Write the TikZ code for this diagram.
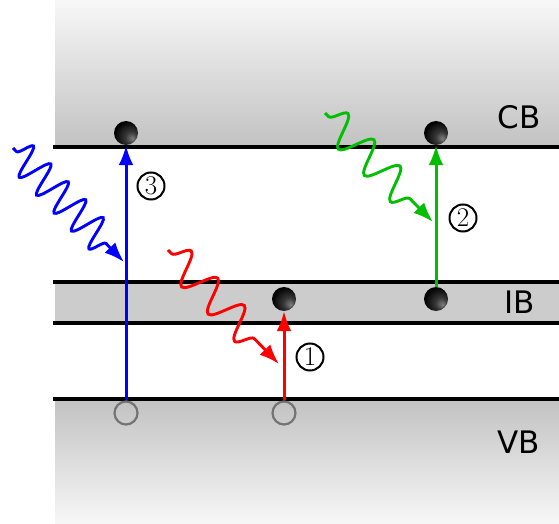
\documentclass[tikz,border=0pt]{standalone}
\usepackage{fontspec}
\setsansfont{DejaVu Sans}
\usetikzlibrary{arrows.meta,decorations.pathmorphing}
\pgfdeclareradialshading{electronball}{\pgfpoint{14bp}{-12bp}}{color(0bp)=(black!50); color(12bp)=(black!78); color(30bp)=(black); color(50bp)=(black)}
\tikzset{
	electron/.style={circle, minimum size=24pt, inner sep=0pt, shading=electronball},
	hole/.style={circle, draw=black!55, line width=2.2pt, minimum size=23pt, inner sep=0pt},
	stepnum/.style={circle, draw, line width=2pt, minimum size=27pt, inner sep=0pt, font=\fontsize{27}{27}\selectfont},
	bandline/.style={line width=3.4pt},
	bandname/.style={font=\sffamily\fontsize{31}{31}\selectfont},
	transition/.style={line width=3pt, -{Latex[length=20pt,width=15pt]}},
	photon/.style={line width=2.9pt, -{Latex[length=20pt,width=15pt]}, decorate, decoration={snake, amplitude=16pt, pre length=5pt, post length=20pt}}
}
\begin{document}
\begin{tikzpicture}[x=1pt,y=-1pt]
		\useasboundingbox (0,0) rectangle (559,524);
		% bands
		\shade[top color=black!3, bottom color=black!24] (55,0) rectangle (559,147);
		\fill[black!20] (55,282) rectangle (559,323);
		\shade[top color=black!24, bottom color=black!3] (55,399) rectangle (559,524);
		\draw[bandline] (53,147) -- (559,147);
		\draw[bandline] (53,282) -- (559,282);
		\draw[bandline] (53,323) -- (559,323);
		\draw[bandline] (53,399) -- (559,399);
		\node[bandname] (cb) at (519,117) {CB};
		\node[bandname] (ib) at (520,302) {IB};
		\node[bandname] (vb) at (519,442) {VB};
		% carriers
		\node[electron] (e3) at (126,133) {};
		\node[electron] (e2) at (436,133) {};
		\node[electron] (ib1) at (284,299) {};
		\node[electron] (ib2) at (436,299) {};
		\node[hole] (h3) at (126,413) {};
		\node[hole] (h1) at (284,413) {};
		% transitions
		\draw[transition, blue] (h3) -- (e3);
		\draw[transition, red] (h1) -- (ib1);
		\draw[transition, green!75!black] (ib2) -- (e2);
		% photons
		\coordinate (p3) at (13,148);
		\coordinate (t3) at (124,262);
		\coordinate (p2) at (325,113);
		\coordinate (t2) at (433,222);
		\coordinate (p1) at (168,250);
		\coordinate (t1) at (279,364);
		\draw[photon, blue, decoration={segment length=25pt}] (p3) -- (t3);
		\draw[photon, green!75!black, decoration={segment length=37pt}] (p2) -- (t2);
		\draw[photon, red, decoration={segment length=38pt}] (p1) -- (t1);
		\node[stepnum] (n3) at (151,186) {3};
		\node[stepnum] (n2) at (463,218) {2};
		\node[stepnum] (n1) at (310,357) {1};
	\end{tikzpicture}
\end{document}
